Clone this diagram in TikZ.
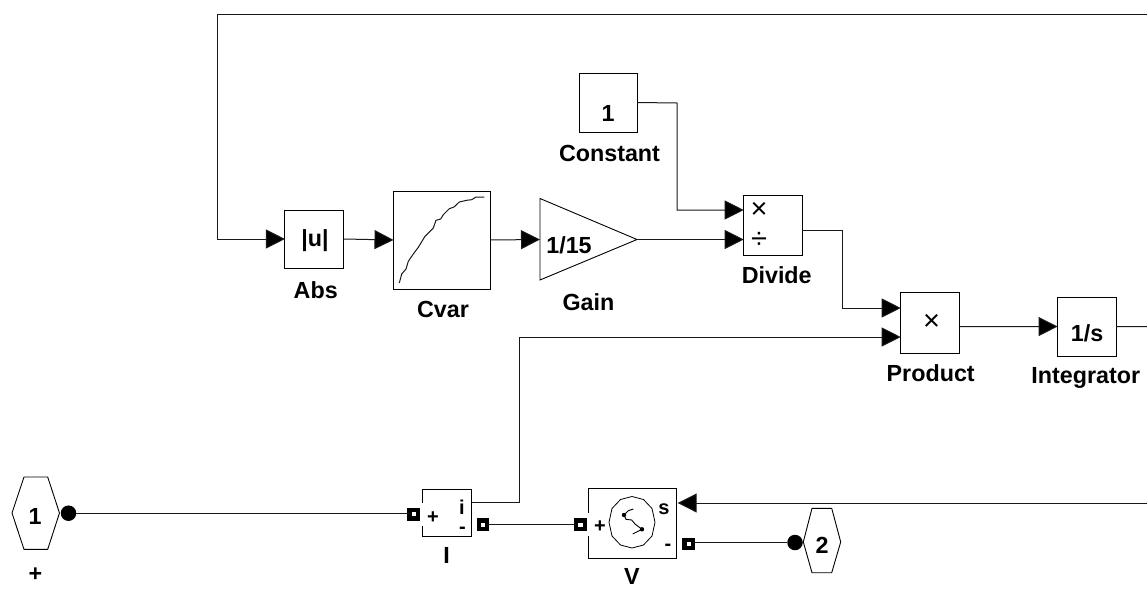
\documentclass[tikz,border=0pt]{standalone}
\usepackage{fontspec}
\setmainfont{Liberation Sans}
\usetikzlibrary{arrows.meta,shapes.geometric}
\tikzset{
  x=1pt,y=-1pt,
  every node/.style={inner sep=0pt,outer sep=0pt},
  lbl/.style={font=\fontsize{23.3}{25}\selectfont\bfseries},
  sym/.style={font=\fontsize{20}{22}\selectfont\bfseries},
  thinsym/.style={font=\fontsize{29}{29}\selectfont},
  block/.style={draw=black,line width=1pt,fill=white,sym},
  wire/.style={draw=black!90,line width=1pt},
  sig/.style={wire,-{Triangle[length=19pt,width=19pt,fill=black]}},
  conn/.style={draw=black,fill=white,line width=4.2pt,minimum size=8.5pt},
  dot/.style={circle,fill=black,minimum size=15.5pt},
}
\begin{document}
\begin{tikzpicture}
\useasboundingbox (0,0) rectangle (1147,594);
% blocks
\node[block,minimum width=58.7pt,minimum height=58pt] (abs) at (314.3,239) {};
\node[block,minimum width=97pt,minimum height=98pt] (cvar) at (442,240) {};
\node[block,minimum width=58pt,minimum height=59pt] (const) at (608,102.5) {};
\node[block,minimum width=58.8pt,minimum height=60pt] (div) at (773,225) {};
\node[block,minimum width=58.8pt,minimum height=61pt] (prod) at (930,322.5) {};
\node[block,minimum width=58.8pt,minimum height=59pt] (integ) at (1087,326.5) {};
\coordinate (gA) at (540,198.5);
\coordinate (gB) at (540,280);
\coordinate (gC) at (637,239.5);
\draw[line width=0.9pt,line join=miter] (gA) -- (gC) -- (gB) -- cycle;
\coordinate (gIn) at (540,239.5);
% I and V blocks (left side broken at the port)
\coordinate (iNE) at (471.5,489.3);
\coordinate (iSE) at (471.5,536.3);
\coordinate (vNE) at (676.3,488);
\coordinate (vSE) at (676.3,558.3);
\draw[line width=1pt] (422.7,503) -- (422.7,489.3) -- (iNE) -- (iSE) -- (422.7,536.3) -- (422.7,525.7);
\draw[line width=1pt] (588.3,513.3) -- (588.3,488) -- (vNE) -- (vSE) -- (588.3,558.3) -- (588.3,536);
% hexagons
\draw[line width=0.9pt] (12,513) -- (24,477) -- (47.7,477) -- (59.5,513) -- (47.7,549.3) -- (24,549.3) -- cycle;
\draw[line width=0.9pt] (803.3,542) -- (812,508.3) -- (831.7,508.3) -- (840.7,542) -- (831.7,572.7) -- (812,572.7) -- cycle;
% ports
\node[dot] (p1) at (68.5,513.2) {};
\node[dot] (p2) at (795,542.5) {};
\node[conn] (iIn) at (413.8,514.3) {};
\node[conn] (iOut) at (483,524.7) {};
\node[conn] (vIn) at (580.5,524.7) {};
\node[conn] (vOut) at (688.8,544) {};
% junctions
\coordinate (tr) at (1147,15);
\coordinate (tl) at (217,15);
\coordinate (absIn) at (217,239);
\coordinate (cb) at (677,103);
\coordinate (divA) at (743.7,210);
\coordinate (divB) at (743.7,239.5);
\coordinate (d1) at (842.3,230.7);
\coordinate (prodA) at (900.7,308);
\coordinate (prodB) at (900.7,337);
\coordinate (i1) at (519.7,502.7);
\coordinate (prodOut) at (959.5,326.7);
\coordinate (vS) at (677.7,503);
\coordinate (rr) at (1147,503);
\coordinate (intOut) at (1147,326.7);
% connectors
\draw[sig] (tr) -- (tl) -- (absIn) -- (abs.west);
\draw[sig] (abs.east) -- (cvar.west);
\draw[sig] (cvar.east) -- (gIn);
\draw[sig] (const.east) -- (cb) |- (divA);
\draw[sig] (gC) -- (divB);
\draw[sig] (d1 -| div.east) -- (d1) |- (prodA);
\draw[sig] (iNE |- i1) -- (i1) |- (prodB);
\draw[sig] (prodOut) -- (integ.west);
\draw[wire] (integ.east) -- (intOut);
\draw[sig] (rr) -- (vS);
\draw[wire] (p1.east) -- (p1.east -| iIn.west);
\draw[wire] (iOut) -- (vIn);
\draw[wire] (vOut.east |- p2) -- (p2.west);
% curve in Cvar
\draw[line width=1pt,black!90,line join=round] (399.3,283) -- (401.7,274) -- (406,269) -- (408.3,261.3) -- (413.3,254) -- (418.3,247.3) -- (425,236.3) -- (433.3,228) -- (436,220.3) -- (440.7,219) -- (443.3,214.7) -- (449.3,208.7) -- (454,207) -- (459.3,202) -- (466.7,200.3) -- (471.7,199.7) -- (476,197) -- (484.3,197);
% instrument in V
\draw[line width=0.8pt] (655,522.3) -- (652,508.5) -- (643.5,499.5) -- (632,496.5) -- (620.5,499.5) -- (612,508.5) -- (609,522.3) -- (612,536) -- (620.5,545) -- (632,548) -- (643.5,545) -- (652,536) -- cycle;
\draw[line width=0.9pt,line join=round] (633.3,509) -- (628.3,510.7) -- (624,515) -- (626,519.3) -- (631.7,520) -- (635,524) -- (642,529.3) -- (632.7,534);
\fill (624,515) circle (2.2pt) (642,529.3) circle (2.2pt);
% texts
\node[lbl] (tPlus) at (35.5,575) {+};
\node[lbl] (t1) at (35,516) {1};
\node[lbl] (t2) at (822,545) {2};
\node[lbl] (tConst) at (609.5,153) {Constant};
\node[lbl] (tAbs) at (315.7,290) {Abs};
\node[lbl] (tCvar) at (443,309) {Cvar};
\node[lbl] (tGain) at (588.5,302) {Gain};
\node[lbl] (tDiv) at (776.7,275) {Divide};
\node[lbl] (tProd) at (930.7,373) {Product};
\node[lbl] (tInt) at (1085.7,378) {Integrator};
\node[lbl] (tI) at (446.7,555) {I};
\node[lbl] (tV) at (632,576.7) {V};
\node[lbl] (vConst) at (608,113) {1};
\node[lbl] (vAbs) at (315,241) {|u|};
\node[lbl] (vGain) at (569,245) {1/15};
\node[lbl] (vInt) at (1087,333) {1/s};
\node[sym] (iP) at (433,518) {+};
\node[sym] (iI) at (462,507.5) {i};
\node[sym] (iM) at (462.5,530.5) {-};
\node[sym] (vP) at (600,527) {+};
\node[sym] (vSl) at (664,509) {s};
\node[sym] (vM) at (668,547) {-};
\node[thinsym] (xA) at (759,210.5) {×};
\node[thinsym] (xB) at (759,240) {÷};
\node[thinsym] (xC) at (931.5,322) {×};
\end{tikzpicture}
\end{document}
